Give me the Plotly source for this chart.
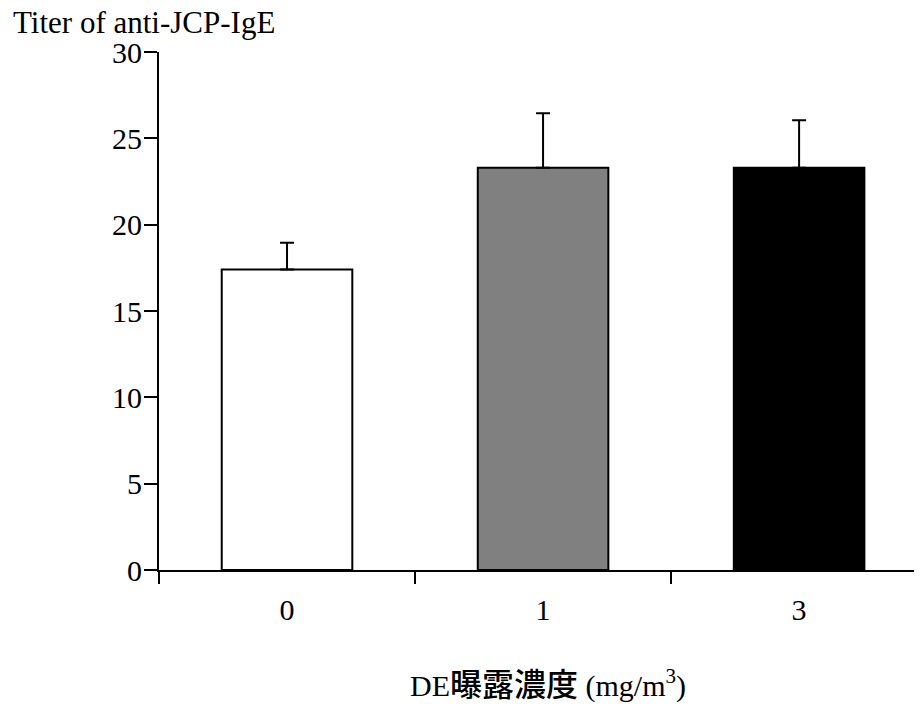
import plotly.graph_objects as go

categories = ["0", "1", "3"]
means = [17.4, 23.3, 23.3]
errors = [1.55, 3.15, 2.75]
colors = ["#ffffff", "#808080", "#000000"]
y_ticks = [0, 5, 10, 15, 20, 25, 30]
x_pos = [0, 1, 2]
boundaries = [-0.5, 0.5, 1.5, 2.5]

serif = "Liberation Serif, Times New Roman, Noto Sans CJK JP, serif"
x_title = ("DE<span style=\"font-family:'Noto Sans CJK JP';font-size:32px;font-weight:500\">"
           "曝露濃度</span> (mg/m<sup>3</sup>)")

fig = go.Figure()
fig.add_trace(go.Bar(
    x=x_pos, y=means,
    width=0.51,
    marker=dict(color=colors, line=dict(color="black", width=2)),
    error_y=dict(type="data", array=errors, symmetric=False, arrayminus=[0, 0, 0],
                 color="black", thickness=2, width=7),
    showlegend=False,
))

fig.add_annotation(
    text=x_title, xref="paper", yref="paper", x=0.51, y=-0.216,
    xanchor="center", yanchor="middle", showarrow=False,
    font=dict(family=serif, size=30, color="black"),
)

fig.update_layout(
    width=914, height=696,
    margin=dict(l=151, r=0, t=44, b=134),
    plot_bgcolor="white", paper_bgcolor="white",
    font=dict(family=serif, size=30, color="black"),
    title=dict(text="Titer of anti-JCP-IgE", x=0.0055, xref="container", xanchor="left",
               y=0.979, yref="container", yanchor="middle",
               font=dict(family=serif, size=31, color="black")),
    xaxis=dict(
        range=[-0.5, 2.48],
        tickmode="array", tickvals=x_pos, ticktext=categories,
        ticks="outside", ticklen=12, tickcolor="rgba(0,0,0,0)",
        ticklabelstandoff=0,
        showline=True, linecolor="black", linewidth=2,
        showgrid=False, zeroline=False,
        minor=dict(tickmode="array", tickvals=boundaries, ticks="outside",
                   ticklen=12, tickwidth=2, tickcolor="black", showgrid=False),
    ),
    yaxis=dict(
        range=[0, 30],
        tickmode="array", tickvals=y_ticks,
        ticks="outside", ticklen=13, tickwidth=2, tickcolor="black",
        ticklabelstandoff=-4,
        showline=True, linecolor="black", linewidth=2,
        showgrid=False, zeroline=False,
    ),
)

fig.write_html("out.html")
